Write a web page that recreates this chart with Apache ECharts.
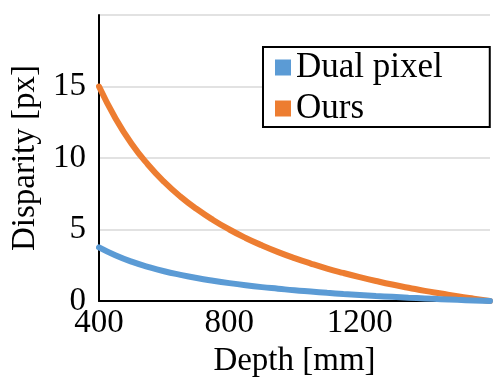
<!DOCTYPE html>
<html>
<head>
<meta charset="utf-8">
<script src="https://cdn.jsdelivr.net/npm/echarts@6/dist/echarts.min.js"></script>
<style>html,body{margin:0;padding:0;background:#fff;}#c{width:497px;height:389px;}</style>
</head>
<body>
<div id="c"></div>
<script>
// Data
var depths = [400, 450, 500, 550, 600, 650, 700, 750, 800, 850, 900, 950, 1000, 1050, 1100, 1150, 1200, 1250, 1300, 1350, 1400, 1450, 1500, 1550, 1600];
var dualPixel = [3.75, 3.2, 2.75, 2.39, 2.08, 1.83, 1.61, 1.42, 1.25, 1.1, 0.97, 0.86, 0.75, 0.66, 0.57, 0.49, 0.42, 0.35, 0.29, 0.23, 0.18, 0.13, 0.08, 0.04, 0];
var ours = [15, 12.8, 11.0, 9.55, 8.33, 7.3, 6.43, 5.67, 5.0, 4.41, 3.89, 3.42, 3.0, 2.62, 2.27, 1.96, 1.67, 1.4, 1.15, 0.93, 0.71, 0.52, 0.33, 0.16, 0];
var seriesNames = ['Dual pixel', 'Ours'];
var xTicks = [400, 800, 1200, 1600];
var yTicks = [0, 5, 10, 15, 20];

var FONT = "'Liberation Serif', 'Times New Roman', serif";
function pairs(xs, ys) { return xs.map(function (x, i) { return [x, ys[i]]; }); }

var chart = echarts.init(document.getElementById('c'), null, { renderer: 'canvas' });
chart.setOption({
  animation: false,
  backgroundColor: '#ffffff',
  textStyle: { fontFamily: FONT, color: '#000' },
  grid: { left: 99, right: 7, top: 15, bottom: 88, containLabel: false },
  legend: {
    data: seriesNames,
    orient: 'vertical',
    left: 263,
    top: 47,
    icon: 'rect',
    itemWidth: 16,
    itemHeight: 16,
    itemGap: 6,
    padding: [3, 47, 1, 12],
    borderColor: '#000',
    borderWidth: 2,
    backgroundColor: '#fff',
    textStyle: { fontFamily: FONT, fontSize: 35, color: '#000' }
  },
  xAxis: {
    type: 'value',
    min: xTicks[0],
    max: xTicks[xTicks.length - 1],
    interval: 400,
    name: 'Depth [mm]',
    nameLocation: 'middle',
    nameGap: 44,
    nameTextStyle: { fontFamily: FONT, fontSize: 33, color: '#000' },
    axisLine: { show: true, lineStyle: { color: '#000', width: 2 } },
    axisTick: { show: false },
    splitLine: { show: false },
    axisLabel: { fontFamily: FONT, fontSize: 33, color: '#000', margin: 6, showMaxLabel: false,
      formatter: function (v) { return String(v); } }
  },
  yAxis: {
    type: 'value',
    min: yTicks[0],
    max: yTicks[yTicks.length - 1],
    interval: 5,
    name: 'Disparity [px]',
    nameLocation: 'middle',
    nameGap: 57,
    nameRotate: 90,
    nameTextStyle: { fontFamily: FONT, fontSize: 33, color: '#000' },
    axisLine: { show: true, lineStyle: { color: '#000', width: 2 } },
    axisTick: { show: false },
    splitLine: { show: true, lineStyle: { color: '#d9d9d9', width: 1.5 } },
    axisLabel: { fontFamily: FONT, fontSize: 33, color: '#000', margin: 13, showMaxLabel: false,
      formatter: function (v) { return String(v); } }
  },
  series: [
    {
      name: 'Ours', type: 'line', smooth: true, showSymbol: false, clip: false,
      data: pairs(depths, ours),
      itemStyle: { color: '#ED7D31' },
      lineStyle: { color: '#ED7D31', width: 6, cap: 'round' },
      z: 3
    },
    {
      name: 'Dual pixel', type: 'line', smooth: true, showSymbol: false, clip: false,
      data: pairs(depths, dualPixel),
      itemStyle: { color: '#5B9BD5' },
      lineStyle: { color: '#5B9BD5', width: 6, cap: 'round' },
      z: 4
    }
  ]
});
</script>
</body>
</html>
